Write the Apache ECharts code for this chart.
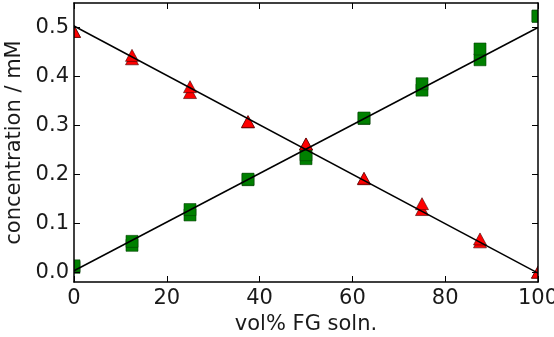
<!DOCTYPE html>
<html>
<head>
<meta charset="utf-8">
<script src="https://cdn.jsdelivr.net/npm/echarts@6/dist/echarts.min.js"></script>
<style>
html,body{margin:0;padding:0;background:#fff;}
#c{width:554px;height:337px;}
</style>
</head>
<body>
<div id="c"></div>
<script>
// ---- data ----
const volPct = [0, 12.5, 25, 37.5, 50, 62.5, 75, 87.5, 100];
const squaresA = [0.010, 0.055, 0.117, 0.189, 0.232, 0.314, 0.372, 0.434, 0.523];
const squaresB = [0.013, 0.063, 0.128, 0.190, 0.240, 0.315, 0.385, 0.456, 0.523];
const trianglesA = [0.492, 0.436, 0.367, 0.307, 0.262, 0.191, 0.128, 0.062, 0.000];
const trianglesB = [0.492, 0.443, 0.379, 0.308, 0.262, 0.192, 0.140, 0.068, 0.000];
const fitRiseX = [0, 100];
const fitRiseY = [0.003, 0.5];
const fitFallX = [0, 100];
const fitFallY = [0.503, -0.002];
const xTicks = [0, 20, 40, 60, 80, 100];
const yTicks = [0.0, 0.1, 0.2, 0.3, 0.4, 0.5];
const xLabel = 'vol% FG soln.';
const yLabel = 'concentration / mM';

// ---- layout ----
const G = {left: 74, top: 3, width: 464, height: 279};
const FONT = 'DejaVu Sans';
const TXT = '#1a1a1a';

function pairs(xs, ys){ return xs.map((x,i)=>[x, ys[i]]); }
const sqData = pairs(volPct, squaresA).concat(pairs(volPct, squaresB));
const trData = pairs(volPct, trianglesA).concat(pairs(volPct, trianglesB));

const axisLineStyle = {color: '#000', width: 1.5};
const tickStyle = {show: true, inside: true, length: 6, lineStyle: {color: '#000', width: 1}};

const chart = echarts.init(document.getElementById('c'), null, {renderer: 'canvas'});
chart.setOption({
  animation: false,
  backgroundColor: '#fff',
  grid: {left: G.left, top: G.top, width: G.width, height: G.height, containLabel: false, outerBoundsMode: 'none'},
  xAxis: [{
    type: 'value', min: 0, max: 100, interval: 20, z: 10,
    name: xLabel, nameLocation: 'middle', nameGap: 31,
    nameTextStyle: {fontFamily: FONT, fontSize: 21, color: TXT},
    axisLine: {show: true, onZero: false, lineStyle: axisLineStyle},
    axisTick: tickStyle,
    axisLabel: {fontFamily: FONT, fontSize: 21, color: TXT, margin: 6, showMaxLabel: true, showMinLabel: true},
    splitLine: {show: false}
  },{
    type: 'value', min: 0, max: 100, interval: 20, position: 'top', z: 10,
    axisLine: {show: true, onZero: false, lineStyle: axisLineStyle},
    axisTick: tickStyle,
    axisLabel: {show: false},
    splitLine: {show: false}
  }],
  yAxis: [{
    type: 'value', min: -0.02, max: 0.55, z: 10,
    name: yLabel, nameLocation: 'middle', nameGap: 44, nameRotate: 90,
    nameTextStyle: {fontFamily: FONT, fontSize: 21, color: TXT},
    axisLine: {show: true, onZero: false, lineStyle: axisLineStyle},
    axisTick: Object.assign({}, tickStyle, {customValues: yTicks}),
    axisLabel: {fontFamily: FONT, fontSize: 21, color: TXT, margin: 5,
      customValues: yTicks, formatter: v => v.toFixed(1)},
    splitLine: {show: false}
  },{
    type: 'value', min: -0.02, max: 0.55, position: 'right', z: 10,
    axisLine: {show: true, onZero: false, lineStyle: axisLineStyle},
    axisTick: Object.assign({}, tickStyle, {customValues: yTicks}),
    axisLabel: {show: false, customValues: yTicks},
    splitLine: {show: false}
  }],
  graphic: {
    elements: [
      {type: 'rect', z: 5, silent: true, shape: {x: 0, y: 0, width: G.left, height: 337}, style: {fill: '#fff'}},
      {type: 'rect', z: 5, silent: true, shape: {x: G.left + G.width, y: 0, width: 554 - G.left - G.width, height: 337}, style: {fill: '#fff'}}
    ]
  },
  series: [
    {
      type: 'scatter', data: sqData, z: 2, symbol: 'rect', symbolSize: 12,
      itemStyle: {color: '#008000', borderColor: '#004000', borderWidth: 0.6, opacity: 1},
      clip: false
    },
    {
      type: 'scatter', data: trData, z: 3, symbol: 'triangle', symbolSize: [13, 12],
      itemStyle: {color: '#ff0000', borderColor: '#400000', borderWidth: 0.6, opacity: 1},
      clip: false
    },
    {
      type: 'line', data: pairs(fitRiseX, fitRiseY), z: 4, symbol: 'none',
      lineStyle: {color: '#000', width: 1.5}
    },
    {
      type: 'line', data: pairs(fitFallX, fitFallY), z: 4, symbol: 'none',
      lineStyle: {color: '#000', width: 1.5}
    }
  ]
});
</script>
</body>
</html>
